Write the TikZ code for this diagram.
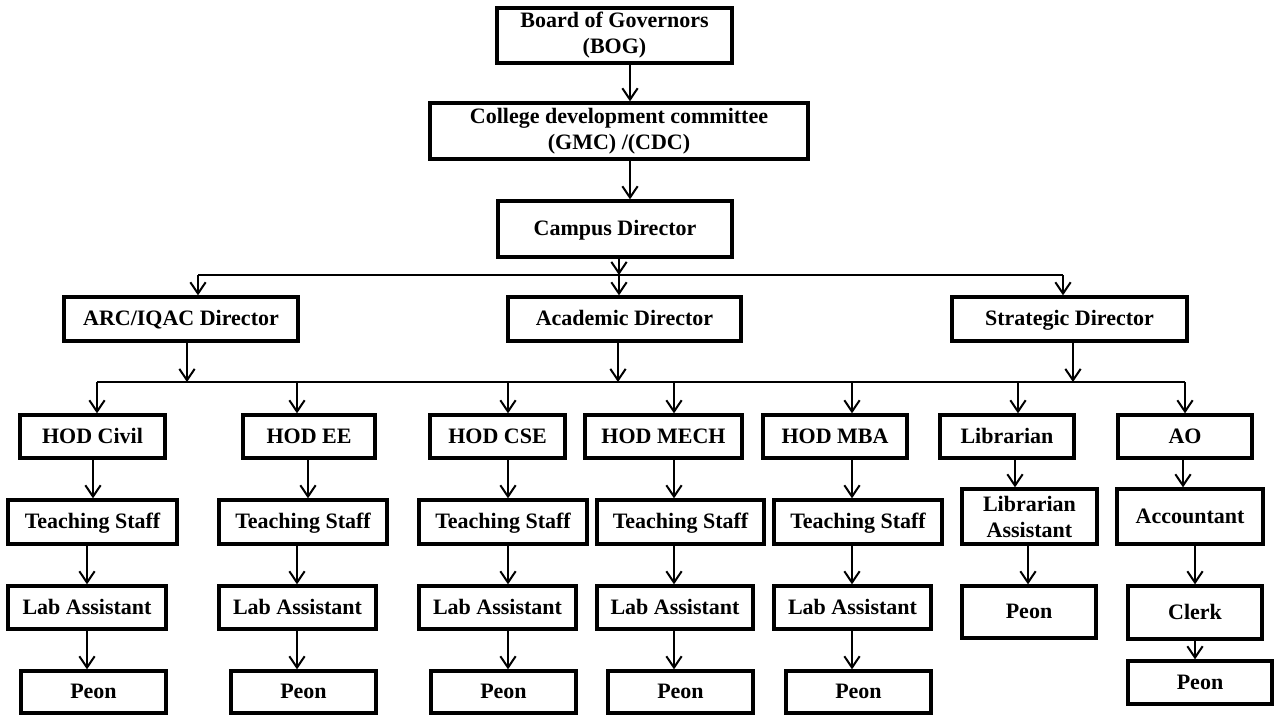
\documentclass[tikz,border=0pt]{standalone}
\usepackage{fontspec}
\setmainfont{Liberation Serif}
\usetikzlibrary{arrows.meta}
\begin{document}
\begin{tikzpicture}[x=0.75pt,y=-0.75pt,
  box2/.style={draw=black,line width=2.5pt,inner sep=0pt,align=center,
    font=\bfseries\fontsize{16.5}{19.5}\selectfont},
  box/.style={box2,text height=12.5pt,text depth=2.5pt},
  wh/.style 2 args={minimum width=#1*0.75pt,minimum height=#2*0.75pt},
  ln/.style={line width=1.5pt},
  arr/.style={line width=1.5pt,-{Straight Barb[length=8.5pt,width=11.5pt]}}]
\useasboundingbox[fill=white] (0,0) rectangle (1275,715);
% top chain
\node[box2,wh={235}{55}] (bog) at (614.5,35.5) {Board of Governors\\(BOG)};
\node[box2,wh={378}{56}] (cdc) at (619,131) {College development committee\\(GMC) /(CDC)};
\node[box,wh={234}{56}] (campus) at (615,229) {Campus Director};
% directors
\node[box,wh={234}{44}] (arc) at (181,319) {ARC/IQAC Director};
\node[box,wh={233}{44}] (acad) at (624.5,319) {Academic Director};
\node[box,wh={235}{44}] (strat) at (1069.5,319) {Strategic Director};
% HOD row
\node[box,wh={145}{43}] (hciv) at (92.5,436.5) {HOD Civil};
\node[box,wh={132}{43}] (hee) at (309,436.5) {HOD EE};
\node[box,wh={135}{43}] (hcse) at (497.5,436.5) {HOD CSE};
\node[box,wh={157}{43}] (hmech) at (663.5,436.5) {HOD MECH};
\node[box,wh={144}{43}] (hmba) at (835,436.5) {HOD MBA};
\node[box,wh={134}{43}] (lib) at (1007,436.5) {Librarian};
\node[box,wh={134}{43}] (ao) at (1185,436.5) {AO};
% teaching staff row
\node[box,wh={169}{44}] (tciv) at (92.5,522) {Teaching Staff};
\node[box,wh={168}{44}] (tee) at (303,522) {Teaching Staff};
\node[box,wh={168}{44}] (tcse) at (503,522) {Teaching Staff};
\node[box,wh={167}{44}] (tmech) at (680.5,522) {Teaching Staff};
\node[box,wh={168}{44}] (tmba) at (858,522) {Teaching Staff};
\node[box2,wh={135}{55}] (libas) at (1029.5,516.5) {Librarian\\Assistant};
\node[box,wh={146}{55}] (acc) at (1190,516.5) {Accountant};
% lab assistant row
\node[box,wh={158}{43}] (lciv) at (87,607.5) {Lab Assistant};
\node[box,wh={157}{43}] (lee) at (297.5,607.5) {Lab Assistant};
\node[box,wh={157}{43}] (lcse) at (497.5,607.5) {Lab Assistant};
\node[box,wh={156}{43}] (lmech) at (675,607.5) {Lab Assistant};
\node[box,wh={157}{43}] (lmba) at (852.5,607.5) {Lab Assistant};
\node[box,wh={134}{52}] (libpeon) at (1029,612) {Peon};
\node[box,wh={134}{53}] (clerk) at (1195,612.5) {Clerk};
% peon row
\node[box,wh={145}{42}] (pciv) at (93.5,692) {Peon};
\node[box,wh={145}{42}] (pee) at (303.5,692) {Peon};
\node[box,wh={145}{42}] (pcse) at (503.5,692) {Peon};
\node[box,wh={145}{42}] (pmech) at (680.5,692) {Peon};
\node[box,wh={145}{42}] (pmba) at (858.5,692) {Peon};
\node[box,wh={144}{43}] (aopeon) at (1200,682.5) {Peon};
% top connectors
\draw[arr] (bog.south -| 630,0) -- (cdc.north -| 630,0);
\draw[arr] (cdc.south -| 630,0) -- (campus.north -| 630,0);
% bus 1
\coordinate (b1l) at (198,275);
\coordinate (b1c) at (619,275);
\coordinate (b1r) at (1063,275);
\draw[arr] (campus.south -| b1c) -- (b1c);
\draw[ln] (b1l) -- (b1r);
\draw[arr] (b1l) -- (arc.north -| b1l);
\draw[arr] (b1c) -- (acad.north -| b1c);
\draw[arr] (b1r) -- (strat.north -| b1r);
% bus 2
\coordinate (b2a) at (187,382);
\coordinate (b2b) at (618,382);
\coordinate (b2c) at (1073,382);
\coordinate (d1) at (97,382);
\coordinate (d2) at (297,382);
\coordinate (d3) at (508,382);
\coordinate (d4) at (674,382);
\coordinate (d5) at (852,382);
\coordinate (d6) at (1018,382);
\coordinate (d7) at (1185,382);
\draw[arr] (arc.south -| b2a) -- (b2a);
\draw[arr] (acad.south -| b2b) -- (b2b);
\draw[arr] (strat.south -| b2c) -- (b2c);
\draw[ln] (d1) -- (d7);
\draw[arr] (d1) -- (hciv.north -| d1);
\draw[arr] (d2) -- (hee.north -| d2);
\draw[arr] (d3) -- (hcse.north -| d3);
\draw[arr] (d4) -- (hmech.north -| d4);
\draw[arr] (d5) -- (hmba.north -| d5);
\draw[arr] (d6) -- (lib.north -| d6);
\draw[arr] (d7) -- (ao.north -| d7);
% columns
\draw[arr] (hciv.south -| 93,0) -- (tciv.north -| 93,0);
\draw[arr] (tciv.south -| 87,0) -- (lciv.north -| 87,0);
\draw[arr] (lciv.south -| 87,0) -- (pciv.north -| 87,0);
\draw[arr] (hee.south -| 308,0) -- (tee.north -| 308,0);
\draw[arr] (tee.south -| 297,0) -- (lee.north -| 297,0);
\draw[arr] (lee.south -| 297,0) -- (pee.north -| 297,0);
\draw[arr] (hcse.south -| 508,0) -- (tcse.north -| 508,0);
\draw[arr] (tcse.south -| 508,0) -- (lcse.north -| 508,0);
\draw[arr] (lcse.south -| 508,0) -- (pcse.north -| 508,0);
\draw[arr] (hmech.south -| 674,0) -- (tmech.north -| 674,0);
\draw[arr] (tmech.south -| 674,0) -- (lmech.north -| 674,0);
\draw[arr] (lmech.south -| 674,0) -- (pmech.north -| 674,0);
\draw[arr] (hmba.south -| 852,0) -- (tmba.north -| 852,0);
\draw[arr] (tmba.south -| 852,0) -- (lmba.north -| 852,0);
\draw[arr] (lmba.south -| 852,0) -- (pmba.north -| 852,0);
\draw[arr] (lib.south -| 1015,0) -- (libas.north -| 1015,0);
\draw[arr] (libas.south -| 1028,0) -- (libpeon.north -| 1028,0);
\draw[arr] (ao.south -| 1183,0) -- (acc.north -| 1183,0);
\draw[arr] (acc.south -| 1195,0) -- (clerk.north -| 1195,0);
\draw[arr] (clerk.south -| 1195,0) -- (aopeon.north -| 1195,0);
\end{tikzpicture}
\end{document}
